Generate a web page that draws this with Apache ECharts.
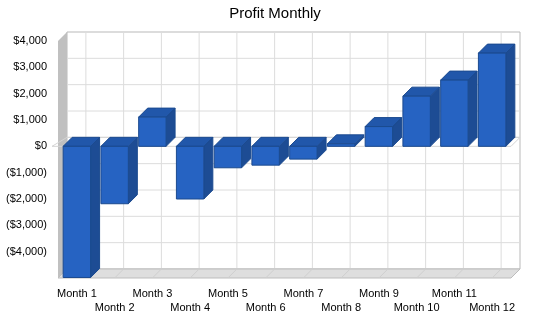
<!DOCTYPE html>
<html>
<head>
<meta charset="utf-8">
<script src="https://cdn.jsdelivr.net/npm/echarts@6/dist/echarts.min.js"></script>
<style>
  html, body { margin: 0; padding: 0; background: #fff; }
  #chart { width: 550px; height: 318px; }
</style>
</head>
<body>
<div id="chart"></div>
<script>
// data
const months = ['Month 1', 'Month 2', 'Month 3', 'Month 4', 'Month 5', 'Month 6',
  'Month 7', 'Month 8', 'Month 9', 'Month 10', 'Month 11', 'Month 12']
const profit = [-4980, -2180, 1110, -2000, -815, -715, -485, 95, 750, 1905, 2515, 3540]
const yMin = -5000
const yMax = 4000
const yStep = 1000

// depth of the fake 3d box
const D = 9

function money (v) {
  if (v === yMin) return ''
  const s = '$' + Math.abs(v).toLocaleString('en-US')
  return v < 0 ? '(' + s + ')' : s
}

// back wall, side wall, floor, grid
function renderBox (params, api) {
  const bw = api.size([1, 0])[0]
  const x0 = api.coord([0, 0])[0] - bw / 2
  const x1 = api.coord([months.length - 1, 0])[0] + bw / 2
  const yT = api.coord([0, yMax])[1]
  const yB = api.coord([0, yMin])[1]
  const y0 = api.coord([0, 0])[1]
  const kids = []
  const grid = { stroke: '#dcdcdc', lineWidth: 1 }
  kids.push({ type: 'rect', shape: { x: x0 + D, y: yT - D, width: x1 - x0, height: yB - yT },
    style: { fill: '#fff', stroke: '#b9b9b9', lineWidth: 1 } })
  for (let v = yMin + yStep; v < yMax; v += yStep) {
    const y = api.coord([0, v])[1] - D
    kids.push({ type: 'line', shape: { x1: x0 + D, y1: y, x2: x1 + D, y2: y }, style: grid })
  }
  for (let i = 0; i < months.length; i++) {
    const c = api.coord([i, 0])[0] + D
    kids.push({ type: 'line', shape: { x1: c, y1: yT - D, x2: c, y2: yB - D }, style: grid })
  }
  // left side wall
  kids.push({ type: 'polygon', shape: { points: [[x0, yT], [x0 + D, yT - D], [x0 + D, yB - D], [x0, yB]] },
    style: { fill: '#c0c0c0' } })
  // floor
  kids.push({ type: 'polygon', shape: { points: [[x0, yB], [x1, yB], [x1 + D, yB - D], [x0 + D, yB - D]] },
    style: { fill: '#dedede', stroke: '#bdbdbd', lineWidth: 1 } })
  for (let i = 0; i < months.length; i++) {
    const c = api.coord([i, 0])[0]
    kids.push({ type: 'line', shape: { x1: c, y1: yB, x2: c + D, y2: yB - D },
      style: { stroke: '#cfcfcf', lineWidth: 1 } })
  }
  // zero plane
  kids.push({ type: 'polygon', shape: { points: [[x0 - 6, y0], [x1, y0], [x1 + D, y0 - D], [x0 + D, y0 - D]] },
    style: { fill: 'none', stroke: '#d4d4d4', lineWidth: 1 } })
  return { type: 'group', children: kids }
}

function renderBar (params, api) {
  const i = api.value(0)
  const v = api.value(1)
  const bw = api.size([1, 0])[0] * 0.726
  const c = api.coord([i, 0])[0]
  const xl = c - bw / 2
  const xr = c + bw / 2
  const yt = api.coord([i, Math.max(v, 0)])[1]
  const yb = api.coord([i, Math.min(v, 0)])[1]
  const edge = '#1b4a8f'
  return {
    type: 'group',
    children: [
      { type: 'polygon', shape: { points: [[xr, yt], [xr + D, yt - D], [xr + D, yb - D], [xr, yb]] },
        style: { fill: '#1d4c94', stroke: edge, lineWidth: 1 } },
      { type: 'polygon', shape: { points: [[xl, yt], [xr, yt], [xr + D, yt - D], [xl + D, yt - D]] },
        style: { fill: '#2157aa', stroke: edge, lineWidth: 1 } },
      { type: 'rect', shape: { x: xl, y: yt, width: bw, height: yb - yt },
        style: { fill: '#2663c2', stroke: edge, lineWidth: 1 } }
    ]
  }
}

const myChart = echarts.init(document.getElementById('chart'))
const option = {
  animation: false,
  title: {
    text: 'Profit Monthly',
    left: 'center',
    top: 1,
    textStyle: { fontFamily: 'Liberation Sans', fontSize: 15, fontWeight: 'normal', color: '#000' }
  },
  grid: { left: 58, right: 39, top: 41, bottom: 40 },
  xAxis: {
    type: 'category',
    data: months,
    axisLine: { show: false },
    axisTick: { show: true, alignWithLabel: true, length: 6, lineStyle: { color: '#c4c4c4' } },
    axisLabel: {
      interval: 0,
      margin: 9,
      fontFamily: 'Liberation Sans',
      fontSize: 11,
      color: '#000',
      lineHeight: 14,
      formatter: (v, i) => (i % 2 ? '\n' + v : v)
    },
    splitLine: { show: false }
  },
  yAxis: {
    type: 'value',
    min: yMin,
    max: yMax,
    interval: yStep,
    axisLine: { show: false },
    axisTick: { show: false },
    splitLine: { show: false },
    axisLabel: {
      margin: 11,
      fontFamily: 'Liberation Sans',
      fontSize: 11,
      color: '#000',
      formatter: money
    }
  },
  series: [
    {
      type: 'custom',
      renderItem: renderBox,
      data: [[0, 0]],
      clip: false,
      silent: true,
      z: 1
    },
    {
      name: 'Profit',
      type: 'custom',
      renderItem: renderBar,
      data: profit.map((v, i) => [i, v]),
      clip: false,
      z: 2
    }
  ]
}
myChart.setOption(option)
window.addEventListener('resize', () => {
  myChart.resize()
})
</script>
</body>
</html>
